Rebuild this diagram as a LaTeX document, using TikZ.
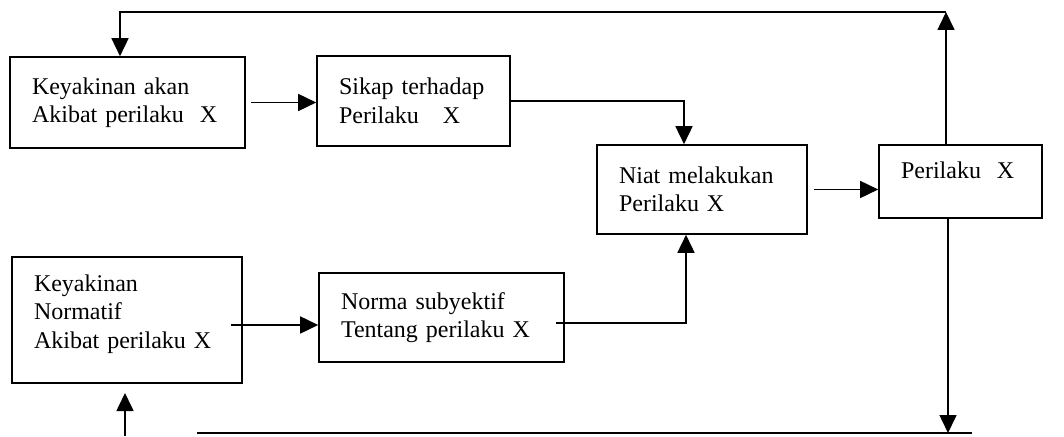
\documentclass[tikz,border=0pt]{standalone}
\usepackage{fontspec}
\setmainfont{Liberation Serif}
\usetikzlibrary{arrows.meta}

\begin{document}
\begin{tikzpicture}[
            x=1pt, y=1pt,
            every node/.style={
              draw,
              line width=1.6pt,
              align=left,
              inner xsep=22pt,
              inner ysep=0pt,
              font=\fontsize{24}{28.5}\selectfont,
            },
            line width=1.6pt,
            >={Triangle[length=18pt,width=17pt]},
          ]
          \useasboundingbox (0,0) rectangle (1064,436);
          \node[text width=191pt, minimum height=91pt] at (127.5,333.5) (yakin) {Keyakinan akan\\Akibat perilaku~~X} ;
          \node[text width=149pt, minimum height=90pt] at (413.5,335) (sikap) {Sikap terhadap\\Perilaku~~~X} ;
          \node[text width=166pt, minimum height=89pt] at (702,246.5) (niat) {Niat melakukan\\Perilaku X} ;
          \node[text width=119pt, minimum height=73pt, text depth=23pt] at (960.5,254.5) (perilaku) {Perilaku~~X} ;
          \node[text width=186pt, minimum height=126pt, text depth=74pt] at (127,116) (normatif) {Keyakinan\\Normatif\\Akibat perilaku X} ;
          \node[text width=201pt, minimum height=89pt] at (441.5,118.5) (norma) {Norma subyektif\\Tentang perilaku X} ;
          \coordinate (kiri) at (120,424) ;
          \coordinate (kanan) at (946,424) ;
          \coordinate (turun) at (948,3) ;
          \coordinate (bawahkiri) at (197,3) ;
          \coordinate (bawahkanan) at (972,3) ;
          \coordinate (naik) at (125,0) ;
          \coordinate (naikujung) at (125,43) ;
          \draw[->] (perilaku.north -| kanan) -- (kanan) ;
          \draw[->] (kanan) -- (kiri) -- (yakin.north -| kiri) ;
          \draw[->] ([xshift=5pt]yakin.east) -- (yakin.east -| sikap.west) ;
          \draw[->] (sikap.east) -| ([xshift=-18pt]niat.north) ;
          \draw[->] ([xshift=6pt]niat.east) -- (niat.east -| perilaku.west) ;
          \draw[->] (perilaku.south -| turun) -- (turun) ;
          \draw (bawahkiri) -- (bawahkanan) ;
          \draw[->] (naik) -- (naikujung) ;
          \draw[->] ([xshift=-12pt,yshift=-5pt]normatif.east) -- ([yshift=-7.5pt]norma.west) ;
          \draw[->] ([xshift=-9pt,yshift=-5.5pt]norma.east) -| ([xshift=-16pt]niat.south) ;
          \end{tikzpicture}
\end{document}
